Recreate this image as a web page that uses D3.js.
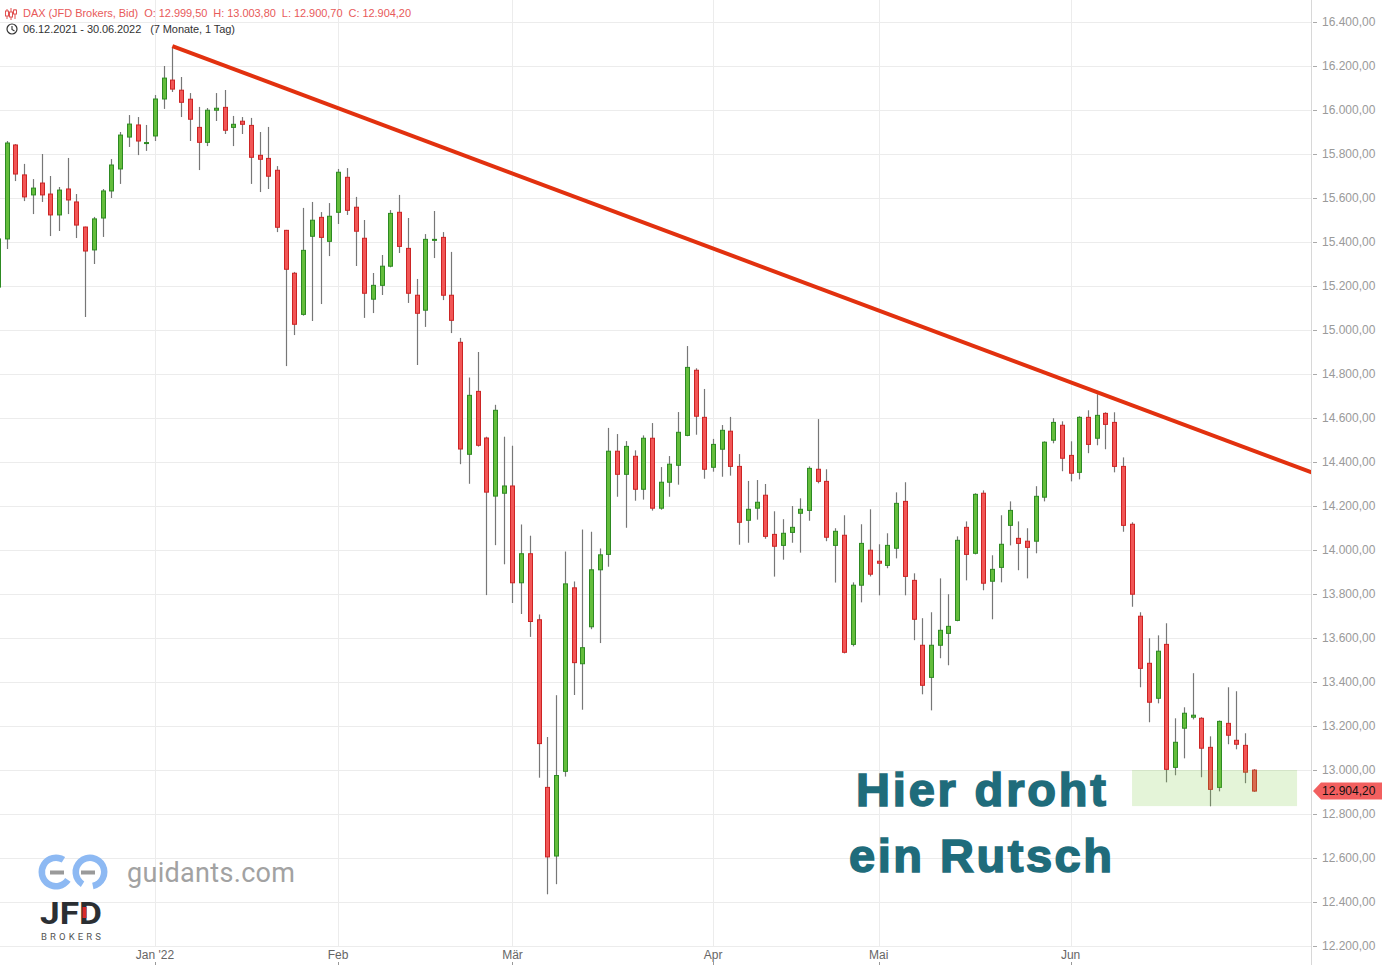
<!DOCTYPE html>
<html><head><meta charset="utf-8">
<script src="https://cdn.jsdelivr.net/npm/d3@7"></script>
<style>html,body{margin:0;padding:0;background:#fff;}svg{display:block;font-family:"Liberation Sans",Arial,sans-serif;}</style>
</head><body>
<svg id="chart" width="1382" height="965"></svg>
<script>
// ---- DATA ----
const dayDec = [6,7,8,9,10,13,14,15,16,17,20,21,22,23,27,28,29,30];
const dayJan = [3,4,5,6,7,10,11,12,13,14,17,18,19,20,21,24,25,26,27,28,31];
const dayFeb = [1,2,3,4,7,8,9,10,11,14,15,16,17,18,21,22,23,24,25,28];
const dayMar = [1,2,3,4,7,8,9,10,11,14,15,16,17,18,21,22,23,24,25,28,29,30,31];
const dayApr = [1,4,5,6,7,8,11,12,13,14,19,20,21,22,25,26,27,28,29];
const dayMay = [2,3,4,5,6,9,10,11,12,13,16,17,18,19,20,23,24,25,26,27,30,31];
const dayJun = [1,2,3,6,7,8,9,10,13,14,15,16,17,20,21,22,23,24,27,28,29,30];
const monthLabels = ["Jan '22","Feb","Mär","Apr","Mai","Jun"];

const openV = [15195,15414,15841,15705,15614,15668,15618,15523,15641,15582,15468,15364,15509,15632,15732,15877,15932,15848,
15882,16050,16136,16090,16049,15921,15853,15999,16012,15921,15949,15930,15794,15780,15726,15453,15258,15071,15426,15512,15403,
15535,15694,15558,15417,15140,15203,15290,15535,15371,15158,15090,15408,15421,15158,14944,14435,14721,14509,14245,14258,
14291,13851,13983,13683,12921,12609,12994,13828,13483,13651,13910,13980,14449,14344,14426,14276,14508,14190,14308,14385,14521,14817,14603,
14376,14458,14540,14380,14135,14190,14249,14071,14021,14080,14167,14180,14367,14312,14021,14067,13571,13840,13999,
13949,13930,14008,14221,13862,13567,13421,13567,13621,13680,14103,13985,14258,13858,13921,14112,14053,14040,14040,14240,14499,
14567,14430,14353,14603,14508,14621,14580,14380,14117,13699,13485,13326,13571,13012,13190,13240,13235,13103,12921,13212,13135,13112,12999.5];
const highV = [15427,15859,15845,15755,15686,15800,15700,15650,15782,15618,15470,15514,15641,15777,15900,15977,15968,15932,
16068,16200,16286,16150,16077,16014,16009,16077,16091,15973,15968,15964,15900,15923,15745,15455,15264,15555,15582,15536,15577,
15732,15736,15605,15500,15259,15341,15545,15614,15509,15232,15436,15541,15445,15355,14964,14784,14900,14515,14660,14515,
14474,14116,14065,13707,13150,13340,13993,13857,14093,14083,14007,14555,14527,14495,14453,14521,14577,14377,14427,14627,14927,14826,14732,
14505,14568,14605,14436,14314,14318,14300,14176,14140,14200,14235,14380,14595,14367,14099,14158,13853,14117,14185,
14026,14076,14262,14308,13894,13690,13717,13871,13799,14062,14130,14258,14271,13976,14158,14221,14130,14099,14290,14494,14599,
14585,14494,14608,14635,14708,14626,14626,14421,14126,13717,13599,13612,13667,13235,13285,13440,13240,13153,13225,13376,13358,13167,13003.8];
const lowV = [15182,15368,15677,15586,15527,15582,15427,15450,15527,15418,15059,15300,15423,15600,15664,15832,15795,15814,
15859,16005,16082,15968,15859,15727,15836,15950,15891,15836,15891,15664,15627,15641,15445,14836,14977,15065,15041,15118,15336,
15482,15523,15291,15055,15077,15159,15285,15350,15123,14841,15014,15327,15136,14986,14390,14301,14470,13795,14022,13935,
13759,13709,13605,12965,12435,12481,12970,13341,13274,13640,13577,13924,14242,14101,14224,14229,14179,14183,14242,14297,14517,14524,14324,
14356,14333,14338,14024,14033,14138,14051,13879,13956,14033,13988,14133,14303,14040,13852,13530,13562,13762,13880,
13794,13917,13962,13794,13590,13344,13271,13508,13476,13676,13862,13980,13817,13685,13853,14021,13908,13871,13985,14221,14485,
14358,14312,14321,14440,14476,14458,14353,14083,13742,13376,13217,13303,12944,12976,13053,13230,12967,12835,12903,13117,13094,12940,12900.7];
const closeV = [15414,15850,15709,15605,15645,15614,15523,15636,15591,15477,15359,15505,15632,15750,15886,15936,15859,15852,
16050,16145,16095,16035,15958,15853,15999,16008,15908,15935,15935,15785,15776,15699,15467,15276,15026,15362,15499,15421,15517,
15717,15544,15449,15167,15203,15290,15530,15380,15167,15076,15412,15412,15158,15044,14459,14703,14476,14263,14635,14291,
13851,13983,13675,13120,12605,12975,13846,13488,13556,13910,13978,14449,14344,14471,14276,14508,14190,14308,14390,14535,14830,14608,14367,
14480,14544,14380,14126,14185,14217,14062,14017,14076,14103,14185,14371,14312,14058,14085,13535,13840,14030,13890,
13940,14021,14212,13880,13685,13385,13567,13635,13653,14044,13980,14253,13849,13912,14026,14180,14030,14012,14244,14490,14580,
14417,14349,14603,14480,14612,14571,14380,14112,13799,13462,13308,13540,13003,13126,13258,13249,13099,12912,13221,13158,13117,12990,12904.2];

// trend line anchors [candle index, value]
const trendPts = [[20, 16290], [126, 14718]];
// support zone: candle index range and value range
const zone = {from: 130.05, to: 148.97, top: 13000, bottom: 12836};
const yTicks = d3.range(12200, 16401, 200);
const annotation = ["Hier droht", "ein Rutsch"];

// ---- BUILD ----
const months = [[2021,11,dayDec],[2022,0,dayJan],[2022,1,dayFeb],[2022,2,dayMar],[2022,3,dayApr],[2022,4,dayMay],[2022,5,dayJun]];
const dates = [];
months.forEach(([y,m,days]) => days.forEach(d => dates.push(new Date(y,m,d))));
const data = dates.map((d,i) => ({d, i, o:openV[i], h:highV[i], l:lowV[i], c:closeV[i]}));

const de = d3.formatLocale({decimal:",", thousands:".", grouping:[3], currency:["","€"]});
const fmt = de.format(",.2f");

const svg = d3.select("#chart");
const W = 1382, H = 965, plotR = 1311, plotB = 946;
const x = d3.scaleLinear().domain([0, 144]).range([-2, 1253.7]);
const y = d3.scaleLinear().domain([12200, 16400]).range([plotB, 22]);

// grid
const g = svg.append("g");
g.selectAll(".hg").data(yTicks).join("line")
  .attr("x1", 0).attr("x2", plotR).attr("y1", d => Math.round(y(d))+0.5).attr("y2", d => Math.round(y(d))+0.5)
  .attr("stroke", "#ececec").attr("stroke-width", 1);

const monthStarts = [];
for (let k = 1; k < data.length; k++) {
  if (data[k].d.getMonth() !== data[k-1].d.getMonth()) monthStarts.push(k);
}
g.selectAll(".vg").data(monthStarts).join("line")
  .attr("x1", d => Math.round(x(d))+0.5).attr("x2", d => Math.round(x(d))+0.5)
  .attr("y1", 0).attr("y2", plotB).attr("stroke", "#ececec");

// x-axis labels
const xa = svg.append("g");
xa.selectAll("text").data(monthStarts).join("text")
  .attr("x", d => x(d)).attr("y", 959).attr("text-anchor", "middle")
  .attr("font-size", 12).attr("fill", "#666").text((d,k) => monthLabels[k]);
xa.selectAll("line").data(monthStarts).join("line")
  .attr("x1", d => Math.round(x(d))+0.5).attr("x2", d => Math.round(x(d))+0.5)
  .attr("y1", 962).attr("y2", 965).attr("stroke", "#999");

// right axis
svg.append("line").attr("x1", plotR+0.5).attr("x2", plotR+0.5).attr("y1", 0).attr("y2", H).attr("stroke", "#d8d8d8");
const ya = svg.append("g");
ya.selectAll("line").data(yTicks).join("line")
  .attr("x1", plotR+2).attr("x2", plotR+6).attr("y1", d => Math.round(y(d))+0.5).attr("y2", d => Math.round(y(d))+0.5)
  .attr("stroke", "#aaa");
ya.selectAll("text").data(yTicks).join("text")
  .attr("x", 1322).attr("y", d => y(d)+4).attr("font-size", 12).attr("fill", "#9a9a9a").text(d => fmt(d));

// clip
svg.append("clipPath").attr("id", "plotclip").append("rect").attr("x", 0).attr("y", 0).attr("width", plotR).attr("height", plotB);
const plot = svg.append("g").attr("clip-path", "url(#plotclip)");

// candles
const cg = plot.append("g");
cg.selectAll(".wick").data(data).join("line")
  .attr("x1", d => Math.round(x(d.i))+0.5).attr("x2", d => Math.round(x(d.i))+0.5)
  .attr("y1", d => y(d.h)).attr("y2", d => y(d.l))
  .attr("stroke", "#777").attr("stroke-width", 1.2);
cg.selectAll(".body").data(data).join("rect")
  .attr("x", d => Math.round(x(d.i)) - 1.5).attr("width", 4)
  .attr("y", d => y(Math.max(d.o, d.c)))
  .attr("height", d => Math.max(1, Math.abs(y(d.o) - y(d.c))))
  .attr("fill", d => d.c >= d.o ? "#63bd3b" : "#f25656")
  .attr("stroke", d => d.c >= d.o ? "#2d8a22" : "#cc2424").attr("stroke-width", 1);

// zone
plot.append("rect")
  .attr("x", x(zone.from)).attr("width", x(zone.to) - x(zone.from))
  .attr("y", y(zone.top)).attr("height", y(zone.bottom) - y(zone.top))
  .attr("fill", "rgb(120,200,60)").attr("fill-opacity", 0.2);

// trend line
const m = (trendPts[1][1] - trendPts[0][1]) / (trendPts[1][0] - trendPts[0][0]);
const iEnd = x.invert(plotR + 2);
const trendLine = [[trendPts[0][0], trendPts[0][1]], [iEnd, trendPts[0][1] + m * (iEnd - trendPts[0][0])]];
plot.append("path").datum(trendLine)
  .attr("d", d3.line().x(d => x(d[0])).y(d => y(d[1])))
  .attr("stroke", "#e2310f").attr("stroke-width", 4).attr("fill", "none");

// last price flag
const last = data[data.length-1];
const ly = y(last.c);
svg.append("path")
  .attr("d", `M${plotR+2},${ly} L${plotR+10},${ly-8.5} L${W},${ly-8.5} L${W},${ly+8.5} L${plotR+10},${ly+8.5} Z`)
  .attr("fill", "#f25f5f");
svg.append("text").attr("x", 1322).attr("y", ly+4).attr("font-size", 12).attr("fill", "#111").text(fmt(last.c));

// header
const hd = svg.append("g");
[[7,9,19,11,16],[11,8,20,12,17],[15,9,19,10,14]].forEach(([cx,t,b,bt,bb]) => {
  hd.append("line").attr("x1",cx).attr("x2",cx).attr("y1",t).attr("y2",b).attr("stroke","#e05050").attr("stroke-width",1);
  hd.append("rect").attr("x",cx-1.5).attr("y",bt).attr("width",3).attr("height",bb-bt).attr("fill","#fff").attr("stroke","#e05050").attr("stroke-width",1);
});
hd.append("text").attr("x", 23).attr("y", 17).attr("font-size", 11).attr("fill", "#e85a5a")
  .attr("xml:space","preserve").attr("textLength", 388).attr("lengthAdjust","spacing")
  .text(`DAX (JFD Brokers, Bid)  O: ${fmt(last.o)}  H: ${fmt(last.h)}  L: ${fmt(last.l)}  C: ${fmt(last.c)}`);
hd.append("circle").attr("cx", 12).attr("cy", 29).attr("r", 5).attr("fill","none").attr("stroke","#333").attr("stroke-width",1.2);
hd.append("path").attr("d","M12,26 L12,29.5 L14.5,31").attr("fill","none").attr("stroke","#333").attr("stroke-width",1.1);
const f2 = d3.timeFormat("%d.%m.%Y");
hd.append("text").attr("x", 23).attr("y", 33).attr("font-size", 11).attr("fill", "#333")
  .attr("xml:space","preserve").attr("textLength", 212).attr("lengthAdjust","spacing")
  .text(`${f2(dates[0])} - ${f2(dates[dates.length-1])}   (7 Monate, 1 Tag)`);

// annotation
const an = svg.append("g").attr("fill", "#1f6c7b").attr("stroke", "#1f6c7b").attr("stroke-width", 1.6)
  .attr("font-weight", "bold").attr("font-size", 47).attr("font-family", "'Liberation Sans', Arial, sans-serif");
an.append("text").attr("x", 856).attr("y", 806).attr("textLength", 250).attr("lengthAdjust","spacing").text(annotation[0]);
an.append("text").attr("x", 849).attr("y", 872).attr("textLength", 263).attr("lengthAdjust","spacing").text(annotation[1]);

// logos
const lg = svg.append("g");
const arc = d3.arc();
lg.append("path").attr("transform","translate(56,872)")
  .attr("d", arc({innerRadius: 11, outerRadius: 17.5, startAngle: 0.75*Math.PI - 0.2, endAngle: 2*Math.PI + 0.55}))
  .attr("fill","#8db9f3");
lg.append("path").attr("transform","translate(90,872)")
  .attr("d", arc({innerRadius: 11, outerRadius: 17.5, startAngle: -Math.PI + 0.55, endAngle: Math.PI - 0.2}))
  .attr("fill","#8db9f3");
lg.append("rect").attr("x",50).attr("y",870.5).attr("width",14).attr("height",4).attr("fill","#9a9a9a");
lg.append("rect").attr("x",81).attr("y",870.5).attr("width",14).attr("height",4).attr("fill","#9a9a9a");
lg.append("text").attr("x",127).attr("y",882).attr("font-family","Roboto, sans-serif").attr("font-size",27)
  .attr("fill","#a2a2a2").attr("textLength",168).text("guidants.com");
lg.append("text").attr("x",40).attr("y",924).attr("font-family","Roboto, sans-serif").attr("font-weight","bold")
  .attr("font-size",31).attr("fill","#2b2f33").attr("textLength",62).attr("lengthAdjust","spacingAndGlyphs").text("JFD");
lg.append("rect").attr("x",82.5).attr("y",907).attr("width",4).attr("height",11).attr("fill","#d92b2b");
lg.append("text").attr("x",41).attr("y",940).attr("font-family","Roboto, sans-serif")
  .attr("font-size",9.5).attr("fill","#555").attr("textLength",60).attr("lengthAdjust","spacing").text("BROKERS");
</script>
</body></html>
